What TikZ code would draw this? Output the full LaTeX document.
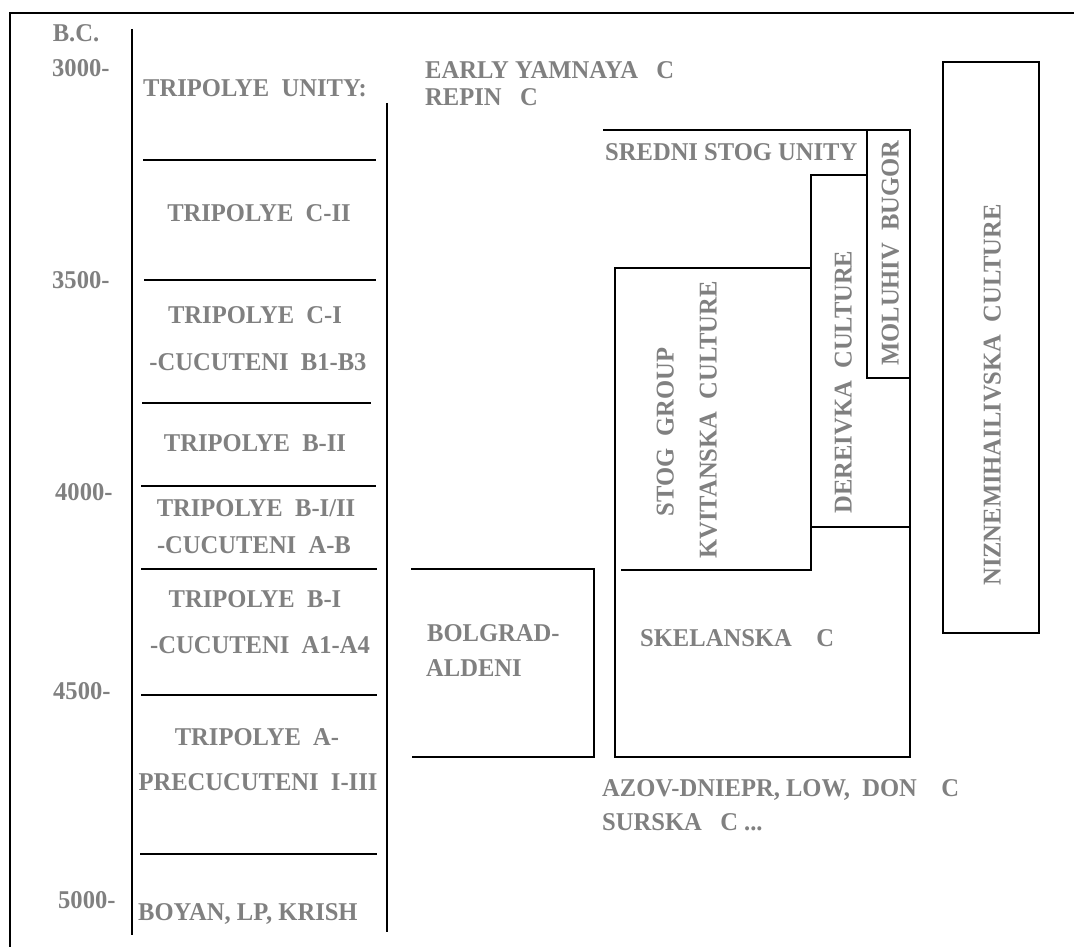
\documentclass[tikz,border=0pt]{standalone}
\usepackage{fontspec}
\setmainfont{Liberation Serif}[FakeStretch=0.96]
\definecolor{txtgray}{gray}{0.5}
\tikzset{
  lbl/.style={font=\fontsize{25.6}{30}\selectfont\bfseries, text=txtgray, inner sep=0pt, text height=17pt, text depth=0pt},
  ln/.style={line width=2pt, draw=black},
  lnthin/.style={line width=1.3pt, draw=black}
}
\begin{document}
\begin{tikzpicture}[x=1pt,y=-1pt]
\useasboundingbox (0,0) rectangle (1074,947);
% frame (cropped)
\draw[ln] (10,947) -- (10,13) -- (1074,13);
% axes
\draw[ln] (132,29) -- (132,935);
\draw[ln] (387,103) -- (387,932);
% tripolye dividers
\draw[ln] (143,160) -- (376,160);
\draw[ln] (144,280) -- (376,280);
\draw[ln] (142,403) -- (371,403);
\draw[ln] (141,486) -- (376,486);
\draw[ln] (141,569) -- (377,569);
\draw[lnthin] (141,695) -- (377,695);
\draw[ln] (140,854) -- (377,854);
% years
\node[lbl] (bc) at (76,33) {B.C.};
\node[lbl,anchor=west] (y3000) at (52,68) {3000-};
\node[lbl,anchor=west] (y3500) at (52,280) {3500-};
\node[lbl,anchor=west] (y4000) at (55,492) {4000-};
\node[lbl,anchor=west] (y4500) at (53,691) {4500-};
\node[lbl,anchor=west] (y5000) at (58,900) {5000-};
% tripolye column
\node[lbl,anchor=west] (tu) at (143,88) {TRIPOLYE\ \ UNITY:};
\node[lbl] (c2) at (259,213) {TRIPOLYE\ \ C-II};
\node[lbl] (c1) at (255,315) {TRIPOLYE\ \ C-I};
\node[lbl] (cb) at (258,362) {-CUCUTENI\ \ B1-B3};
\node[lbl] (b2) at (255,443) {TRIPOLYE\ \ B-II};
\node[lbl] (b12) at (256,508) {TRIPOLYE\ \ B-I/II};
\node[lbl] (cab) at (254,545) {-CUCUTENI\ \ A-B};
\node[lbl] (b1) at (255,599) {TRIPOLYE\ \ B-I};
\node[lbl] (ca) at (260,645) {-CUCUTENI\ \ A1-A4};
\node[lbl] (ta) at (257,737) {TRIPOLYE\ \ A-};
\node[lbl] (pre) at (258,782) {PRECUCUTENI\ \ I-III};
\node[lbl,anchor=west] (boyan) at (138,912) {BOYAN, LP, KRISH};
% right part texts
\node[lbl,anchor=west] (ey) at (425,70) {EARLY YAMNAYA\ \ \ C};
\node[lbl,anchor=west] (rep) at (425,97) {REPIN\ \ \ C};
\node[lbl,anchor=west] (ss) at (605,152) {SREDNI STOG UNITY};
\node[lbl,anchor=west] (bol1) at (427,633) {BOLGRAD-};
\node[lbl,anchor=west] (bol2) at (426,668) {ALDENI};
\node[lbl,anchor=west] (skel) at (640,638) {SKELANSKA\ \ \ \ C};
\node[lbl,anchor=west] (azov) at (602,788) {AZOV-DNIEPR, LOW,\ \ DON\ \ \ \ C};
\node[lbl,anchor=west] (sur) at (602,822) {SURSKA\ \ \ C ...};
% rotated
\node[lbl,rotate=90] (stog) at (665,432) {STOG\ \ GROUP};
\node[lbl,rotate=90] (kvit) at (708,420) {KVITANSKA\ \ CULTURE};
\node[lbl,rotate=90] (der) at (843,382) {DEREIVKA\ \ CULTURE};
\node[lbl,rotate=90] (mol) at (890,253) {MOLUHIV\ \ BUGOR};
\node[lbl,rotate=90] (niz) at (992,395) {NIZNEMIHAILIVSKA\ \ CULTURE};
% boxes
\draw[ln] (411,569) -- (594,569) -- (594,757) -- (412,757);
\draw[ln] (603,130) -- (910,130) -- (910,757) -- (615,757) -- (615,268) -- (811,268);
\draw[ln] (867,130) -- (867,378) -- (910,378);
\draw[ln] (867,175) -- (811,175) -- (811,570) -- (621,570);
\draw[ln] (811,527) -- (910,527);
\draw[ln] (943,62) rectangle (1039,633);
\end{tikzpicture}
\end{document}
